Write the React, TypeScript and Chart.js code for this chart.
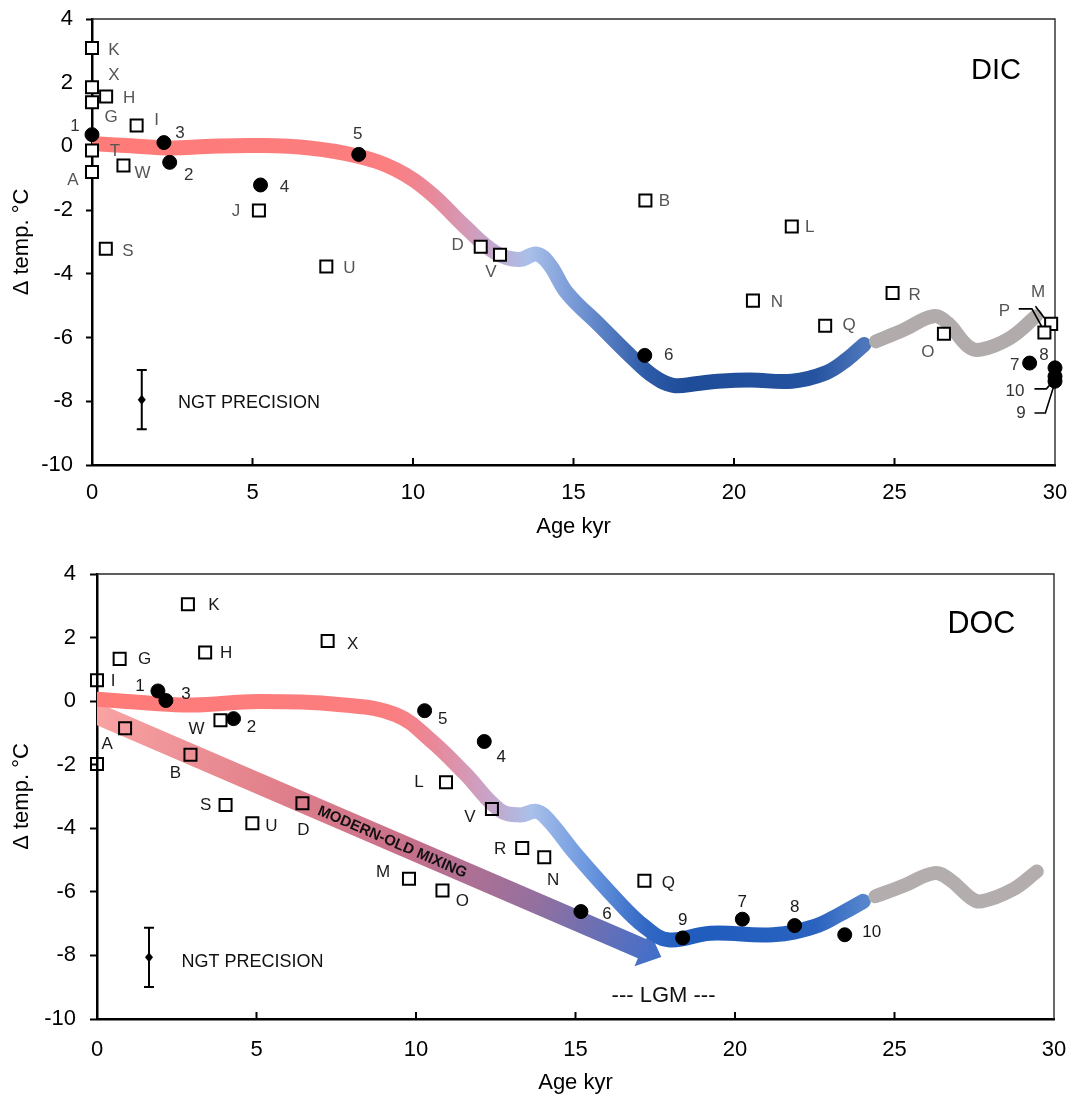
import React, { useEffect, useRef } from 'react';
import { Chart, registerables } from 'chart.js';
Chart.register(...registerables);

const FONT = '"Liberation Sans", Arial, Helvetica, sans-serif';

const xTickValues = [0, 5, 10, 15, 20, 25, 30];

// ---------------- DIC panel (top) ----------------
const dicSquareLabels = ['K', 'X', 'H', 'G', 'I', 'T', 'W', 'A', 'J', 'S', 'U', 'D', 'V', 'B', 'L', 'N', 'Q', 'R', 'O', 'M', 'P'];
const dicSquareAge = [0.0, 0.0, 0.44, 0.0, 1.39, 0.0, 0.98, 0.0, 5.2, 0.43, 7.3, 12.11, 12.71, 17.24, 21.8, 20.59, 22.84, 24.94, 26.54, 29.88, 29.67];
const dicSquareTemp = [3.09, 1.86, 1.57, 1.39, 0.66, -0.13, -0.6, -0.8, -2.01, -3.21, -3.77, -3.15, -3.4, -1.7, -2.51, -4.84, -5.63, -4.6, -5.88, -5.57, -5.84];
const dicSquareLabelOffsets = [[22, 2], [22, -12], [23, 2], [19, 15], [20, -5], [23, 1], [19, 8], [-19, 8], [-23, 1], [22, 3], [23, 2], [-23, -1], [-9, 18], [19, 1], [18, 1], [24, 2], [24, 0], [22, 2], [-16, 19], [-13, -32], [-40, -21]];

const dicCircleLabels = ['1', '2', '3', '4', '5', '6', '7', '8', '9', '10'];
const dicCircleAge = [0.0, 2.42, 2.24, 5.25, 8.31, 17.22, 29.21, 30.0, 30.0, 30.0];
const dicCircleTemp = [0.37, -0.5, 0.12, -1.21, -0.25, -6.56, -6.8, -6.95, -7.37, -7.22];
const dicCircleLabelOffsets = [[-17, -8], [19, 13], [16, -9], [24, 2], [-1, -20], [24, 0], [-15, 2], [-11, -13], [-34, 32], [-40, 15]];

const dicCurveAge = [0, 1.2, 2.49, 3.56, 5.17, 6.78, 8.29, 9.47, 10.54, 11.61, 12.58, 13.3, 13.85, 14.25, 14.8, 15.8, 16.8, 17.5, 18.1, 18.8, 19.5, 20.5, 21.8, 22.85, 23.5, 24.05];
const dicCurveTemp = [0.09, 0.02, -0.05, 0.0, 0.03, -0.05, -0.31, -0.73, -1.46, -2.51, -3.34, -3.55, -3.38, -3.7, -4.6, -5.6, -6.6, -7.22, -7.5, -7.45, -7.37, -7.33, -7.37, -7.11, -6.7, -6.22];
const dicGrayAge = [24.42, 25.3, 26.21, 26.65, 27.3, 27.68, 28.6, 29.41];
const dicGrayTemp = [-6.12, -5.75, -5.33, -5.54, -6.28, -6.38, -6.01, -5.33];

const dicLeaderLines = [
  [[28.87, -5.1], [29.28, -5.1], [29.64, -5.75]],
  [[29.39, -5.02], [29.8, -5.56]],
  [[29.36, -7.61], [29.73, -7.61], [29.99, -7.32]],
  [[29.36, -8.37], [29.7, -8.37], [29.96, -7.53]],
];
const dicNgt = [1.55, -7.95, 0.93];
const dicNgtTextAt = [2.68, -8.07];
const dicTitleAt = [28.16, 2.38];

const dicCurveStops = [
  [0, '#ff7b78'], [9.3, '#fb7e80'], [10.6, '#e8899a'], [12.2, '#c9a2c6'], [13.6, '#a9c0ea'],
  [15.3, '#6f92d2'], [17.2, '#2f5ca8'], [18.5, '#1e4c98'], [22.5, '#2553a0'], [24.05, '#4d76bb'],
];

// ---------------- DOC panel (bottom) ----------------
const docSquareLabels = ['K', 'H', 'X', 'G', 'I', 'W', 'A', '', 'B', 'S', 'U', 'D', 'L', 'V', 'R', 'N', 'M', 'O', 'Q'];
const docSquareAge = [2.85, 3.39, 7.23, 0.71, 0.0, 3.87, 0.88, 0.0, 2.93, 4.03, 4.87, 6.44, 10.94, 12.38, 13.33, 14.02, 9.78, 10.83, 17.16];
const docSquareTemp = [3.05, 1.53, 1.89, 1.33, 0.66, -0.6, -0.85, -1.98, -1.69, -3.27, -3.84, -3.21, -2.55, -3.39, -4.62, -4.91, -5.59, -5.96, -5.65];
const docSquareLabelOffsets = [[26, 1], [21, 1], [25, 3], [25, 0], [16, 1], [-24, 9], [-18, 16], [0, 0], [-15, 18], [-20, 0], [19, 3], [1, 27], [-27, 0], [-22, 8], [-22, 1], [9, 23], [-26, -7], [20, 11], [24, 3]];

const docCircleLabels = ['1', '2', '3', '4', '5', '6', '7', '8', '9', '10'];
const docCircleAge = [1.91, 4.28, 2.16, 12.14, 10.27, 15.17, 20.23, 21.87, 18.36, 23.44];
const docCircleTemp = [0.32, -0.55, 0.02, -1.27, -0.3, -6.62, -6.86, -7.06, -7.45, -7.35];
const docCircleLabelOffsets = [[-18, -5], [18, 9], [20, -6], [17, 16], [18, 9], [26, 3], [0, -17], [0, -18], [0, -18], [27, -2]];

const docCurveAge = [0, 1.5, 3.0, 5.06, 7.75, 9.37, 10.45, 11.53, 12.61, 13.25, 13.79, 14.2, 14.98, 16.29, 17.16, 17.92, 19.23, 21.19, 22.49, 23.3, 24.02];
const docCurveTemp = [0.06, -0.05, -0.12, -0.01, -0.12, -0.43, -1.22, -2.27, -3.42, -3.58, -3.47, -3.8, -4.78, -6.25, -7.09, -7.51, -7.3, -7.35, -7.09, -6.7, -6.3];
const docGrayAge = [24.4, 25.3, 26.25, 26.74, 27.39, 27.72, 28.7, 29.46];
const docGrayTemp = [-6.14, -5.8, -5.41, -5.62, -6.19, -6.3, -5.93, -5.36];

const docArrowStart = [0, -0.4];
const docArrowEnd = [17.69, -8.05];
const docArrowText = 'MODERN-OLD MIXING';
const docNgt = [1.63, -8.06, 0.93];
const docNgtTextAt = [2.65, -8.21];
const docTitleAt = [27.72, 2.4];
const docLgmAt = [17.76, -9.29];

const docCurveStops = [
  [0, '#ff7b78'], [9.3, '#fb7e80'], [10.6, '#e8899a'], [12.2, '#c9a2c6'], [13.6, '#a9c0ea'],
  [15.3, '#6f9ae0'], [17.2, '#3268c4'], [18.5, '#1f5cbd'], [22.5, '#2a62c0'], [24.05, '#5585cc'],
];
const arrowStops = [[0, '#f9a3a3'], [0.3, '#e2818b'], [0.55, '#c7708a'], [0.78, '#93709f'], [1, '#3f6fcb']];

type Panel = any;

const dicPanel: Panel = {
  name: 'dic', title: 'DIC', titleSize: 29, titleAt: dicTitleAt,
  squares: { labels: dicSquareLabels, age: dicSquareAge, temp: dicSquareTemp, offsets: dicSquareLabelOffsets, fill: '#ffffff', color: '#555555' },
  circles: { labels: dicCircleLabels, age: dicCircleAge, temp: dicCircleTemp, offsets: dicCircleLabelOffsets, color: '#333333' },
  curve: { age: dicCurveAge, temp: dicCurveTemp, stops: dicCurveStops },
  gray: { age: dicGrayAge, temp: dicGrayTemp, color: '#b1abab' },
  leaders: dicLeaderLines,
  ngt: dicNgt, ngtTextAt: dicNgtTextAt,
  layout: { padTop: 19, padRight: 20, yWidth: 92, xHeight: 80, xTickPad: 15, yTickPad: 13, yTickLen: 6, titlePadBottom: 5 },
};

const docPanel: Panel = {
  name: 'doc', title: 'DOC', titleSize: 30.5, titleAt: docTitleAt,
  squares: { labels: docSquareLabels, age: docSquareAge, temp: docSquareTemp, offsets: docSquareLabelOffsets, fill: 'rgba(0,0,0,0)', color: '#1a1a1a' },
  circles: { labels: docCircleLabels, age: docCircleAge, temp: docCircleTemp, offsets: docCircleLabelOffsets, color: '#1a1a1a' },
  curve: { age: docCurveAge, temp: docCurveTemp, stops: docCurveStops },
  gray: { age: docGrayAge, temp: docGrayTemp, color: '#b3adad' },
  leaders: [],
  ngt: docNgt, ngtTextAt: docNgtTextAt,
  arrow: { start: docArrowStart, end: docArrowEnd, text: docArrowText, stops: arrowStops, textAt: 0.524 },
  lgmAt: docLgmAt,
  layout: { padTop: 29, padRight: 21, yWidth: 97, xHeight: 78, xTickPad: 18, yTickPad: 14, yTickLen: 7, titlePadBottom: 1 },
};

function toPoints(age: number[], temp: number[]) {
  return age.map((a, i) => ({ x: a, y: temp[i] }));
}

function curveGradient(chart: any, stops: any[]) {
  const { ctx, chartArea, scales } = chart;
  if (!chartArea || !scales.x) return stops[0][1];
  const first = stops[0][0];
  const last = stops[stops.length - 1][0];
  const x0 = scales.x.getPixelForValue(first);
  const x1 = scales.x.getPixelForValue(last);
  const g = ctx.createLinearGradient(x0, 0, x1, 0);
  stops.forEach(([v, c]: any) => g.addColorStop((v - first) / (last - first), c));
  return g;
}

const pointLabelPlugin = {
  id: 'pointLabelPlugin',
  afterDatasetsDraw(chart: any) {
    const ctx = chart.ctx;
    chart.data.datasets.forEach((ds: any, di: number) => {
      if (!ds.pointLabels) return;
      const meta = chart.getDatasetMeta(di);
      ctx.save();
      ctx.font = `17px ${FONT}`;
      ctx.fillStyle = ds.labelColor;
      ctx.textAlign = 'center';
      ctx.textBaseline = 'middle';
      meta.data.forEach((el: any, i: number) => {
        const t = ds.pointLabels[i];
        if (!t) return;
        const [dx, dy] = ds.labelOffsets[i];
        ctx.fillText(t, el.x + dx, el.y + dy);
      });
      ctx.restore();
    });
  },
};

function makeExtrasPlugin(p: Panel) {
  return {
    id: 'extras_' + p.name,
    beforeDatasetsDraw(chart: any) {
      const { ctx, chartArea: a, scales } = chart;
      const x = scales.x, y = scales.y;
      ctx.save();
      ctx.strokeStyle = '#2a2a2a';
      ctx.lineWidth = 1.4;
      ctx.beginPath();
      ctx.moveTo(a.left, a.top);
      ctx.lineTo(a.right, a.top);
      ctx.lineTo(a.right, a.bottom);
      ctx.stroke();
      ctx.strokeStyle = '#000';
      ctx.lineWidth = 2;
      xTickValues.forEach((v) => {
        if (v === 0 || v === 30) return;
        const px = x.getPixelForValue(v);
        ctx.beginPath();
        ctx.moveTo(px, a.bottom);
        ctx.lineTo(px, a.bottom - 7);
        ctx.stroke();
      });
      ctx.restore();

      if (p.arrow) {
        const ar = p.arrow;
        const x0 = x.getPixelForValue(ar.start[0]), y0 = y.getPixelForValue(ar.start[1]);
        const x1 = x.getPixelForValue(ar.end[0]), y1 = y.getPixelForValue(ar.end[1]);
        const dx = x1 - x0, dy = y1 - y0;
        const len = Math.hypot(dx, dy);
        const ux = dx / len, uy = dy / len;
        const nx = -uy, ny = ux;
        const sh = 10.5, hh = 19, hl = 21;
        const sx = x0 - ux * 14, sy = y0 - uy * 14;
        const bx = x1 - ux * hl, by = y1 - uy * hl;
        ctx.save();
        ctx.beginPath();
        ctx.rect(a.left, a.top, a.right - a.left, a.bottom - a.top);
        ctx.clip();
        const g = ctx.createLinearGradient(x0, y0, x1, y1);
        ar.stops.forEach(([t, c]: any) => g.addColorStop(t, c));
        ctx.fillStyle = g;
        ctx.beginPath();
        ctx.moveTo(sx + nx * sh, sy + ny * sh);
        ctx.lineTo(bx + nx * sh, by + ny * sh);
        ctx.lineTo(bx + nx * hh, by + ny * hh);
        ctx.lineTo(x1, y1);
        ctx.lineTo(bx - nx * hh, by - ny * hh);
        ctx.lineTo(bx - nx * sh, by - ny * sh);
        ctx.lineTo(sx - nx * sh, sy - ny * sh);
        ctx.closePath();
        ctx.fill();
        const tx = x0 + dx * ar.textAt, ty = y0 + dy * ar.textAt;
        ctx.translate(tx, ty);
        ctx.rotate(Math.atan2(dy, dx));
        ctx.font = `bold 15px ${FONT}`;
        ctx.fillStyle = '#111';
        ctx.textAlign = 'center';
        ctx.textBaseline = 'middle';
        ctx.fillText(ar.text, 0, 1);
        ctx.restore();
      }
    },
    afterDatasetsDraw(chart: any) {
      const { ctx, scales } = chart;
      const x = scales.x, y = scales.y;
      ctx.save();
      const [na, nt, ne] = p.ngt;
      const px = x.getPixelForValue(na);
      const py = y.getPixelForValue(nt);
      const pTop = y.getPixelForValue(nt + ne);
      const pBot = y.getPixelForValue(nt - ne);
      ctx.strokeStyle = '#000';
      ctx.lineWidth = 2;
      ctx.beginPath();
      ctx.moveTo(px, pTop); ctx.lineTo(px, pBot);
      ctx.moveTo(px - 5, pTop); ctx.lineTo(px + 5, pTop);
      ctx.moveTo(px - 5, pBot); ctx.lineTo(px + 5, pBot);
      ctx.stroke();
      ctx.fillStyle = '#000';
      ctx.beginPath();
      ctx.moveTo(px, py - 5); ctx.lineTo(px + 4, py); ctx.lineTo(px, py + 5); ctx.lineTo(px - 4, py);
      ctx.closePath();
      ctx.fill();
      ctx.font = `18px ${FONT}`;
      ctx.textAlign = 'left';
      ctx.textBaseline = 'middle';
      ctx.fillStyle = '#111';
      ctx.fillText('NGT PRECISION', x.getPixelForValue(p.ngtTextAt[0]), y.getPixelForValue(p.ngtTextAt[1]));
      ctx.font = `${p.titleSize}px ${FONT}`;
      ctx.textAlign = 'center';
      ctx.fillStyle = '#000';
      ctx.fillText(p.title, x.getPixelForValue(p.titleAt[0]), y.getPixelForValue(p.titleAt[1]));
      if (p.lgmAt) {
        ctx.font = `22px ${FONT}`;
        ctx.fillStyle = '#111';
        ctx.fillText('--- LGM ---', x.getPixelForValue(p.lgmAt[0]), y.getPixelForValue(p.lgmAt[1]));
      }
      ctx.restore();
    },
  };
}

function buildChart(canvas: HTMLCanvasElement, p: Panel) {
  const L = p.layout;
  const datasets: any[] = [];
  datasets.push({
    data: toPoints(p.curve.age, p.curve.temp),
    showLine: true,
    borderWidth: 15,
    pointRadius: 0,
    pointHoverRadius: 0,
    tension: 0.4,
    borderCapStyle: 'round',
    borderJoinStyle: 'round',
    borderColor: (ctx: any) => curveGradient(ctx.chart, p.curve.stops),
    backgroundColor: 'transparent',
    fill: false,
    order: 10,
  });
  datasets.push({
    data: toPoints(p.gray.age, p.gray.temp),
    showLine: true,
    borderWidth: 14,
    pointRadius: 0,
    pointHoverRadius: 0,
    tension: 0.4,
    borderCapStyle: 'round',
    borderJoinStyle: 'round',
    borderColor: p.gray.color,
    fill: false,
    order: 9,
  });
  p.leaders.forEach((ln: number[][]) => {
    datasets.push({
      data: ln.map(([a, t]) => ({ x: a, y: t })),
      showLine: true,
      borderWidth: 1.6,
      borderColor: '#000',
      pointRadius: 0,
      pointHoverRadius: 0,
      tension: 0,
      fill: false,
      clip: false,
      order: 8,
    });
  });
  datasets.push({
    data: toPoints(p.squares.age, p.squares.temp),
    showLine: false,
    pointStyle: 'rect',
    pointRadius: 8.5,
    pointHoverRadius: 8.5,
    pointBorderWidth: 2,
    pointBorderColor: '#000',
    pointBackgroundColor: p.squares.fill,
    clip: false,
    order: 2,
    pointLabels: p.squares.labels,
    labelOffsets: p.squares.offsets,
    labelColor: p.squares.color,
  });
  datasets.push({
    data: toPoints(p.circles.age, p.circles.temp),
    showLine: false,
    pointStyle: 'circle',
    pointRadius: 7,
    pointHoverRadius: 7,
    pointBorderWidth: 1,
    pointBorderColor: '#000',
    pointBackgroundColor: '#000',
    clip: false,
    order: 1,
    pointLabels: p.circles.labels,
    labelOffsets: p.circles.offsets,
    labelColor: p.circles.color,
  });

  return new Chart(canvas, {
    type: 'scatter',
    data: { datasets },
    plugins: [makeExtrasPlugin(p), pointLabelPlugin],
    options: {
      animation: false,
      responsive: false,
      devicePixelRatio: 1,
      events: [],
      layout: { padding: { top: L.padTop, right: L.padRight, left: 0, bottom: 0 } },
      plugins: { legend: { display: false }, tooltip: { enabled: false }, title: { display: false } },
      scales: {
        x: {
          type: 'linear',
          min: 0,
          max: 30,
          afterFit: (s: any) => {
            s.height = L.xHeight;
            s.paddingLeft = 0;
            s.paddingRight = 0;
          },
          afterBuildTicks: (s: any) => { s.ticks = xTickValues.map((v) => ({ value: v })); },
          grid: { display: false, drawTicks: false },
          border: { display: true, color: '#000', width: 2.5 },
          ticks: { font: { family: FONT, size: 22 }, color: '#000', padding: L.xTickPad, maxRotation: 0 },
          title: { display: true, text: 'Age kyr', font: { family: FONT, size: 22 }, color: '#000', padding: { top: 0, bottom: L.titlePadBottom } },
        },
        y: {
          type: 'linear',
          min: -10,
          max: 4,
          afterFit: (s: any) => {
            s.width = L.yWidth;
            s.paddingTop = 0;
            s.paddingBottom = 0;
          },
          ticks: { stepSize: 2, font: { family: FONT, size: 22 }, color: '#000', padding: L.yTickPad },
          grid: { drawOnChartArea: false, drawTicks: true, tickLength: L.yTickLen, tickWidth: 2, tickColor: '#000', color: '#000' },
          border: { display: true, color: '#000', width: 2.5 },
          title: { display: true, text: 'Δ temp. °C', font: { family: FONT, size: 22 }, color: '#000', padding: { top: 9, bottom: 0 } },
        },
      },
    } as any,
  });
}

export default function App() {
  const topRef = useRef<HTMLCanvasElement>(null);
  const botRef = useRef<HTMLCanvasElement>(null);
  useEffect(() => {
    const c1 = buildChart(topRef.current as HTMLCanvasElement, dicPanel);
    const c2 = buildChart(botRef.current as HTMLCanvasElement, docPanel);
    return () => {
      c1.destroy();
      c2.destroy();
    };
  }, []);
  return (
    <div style={{ position: 'absolute', left: 0, top: 0, width: 1075, height: 1097, background: '#fff' }}>
      <canvas ref={topRef} width={1075} height={545} style={{ display: 'block', width: 1075, height: 545 }} />
      <canvas ref={botRef} width={1075} height={552} style={{ display: 'block', width: 1075, height: 552 }} />
    </div>
  );
}
